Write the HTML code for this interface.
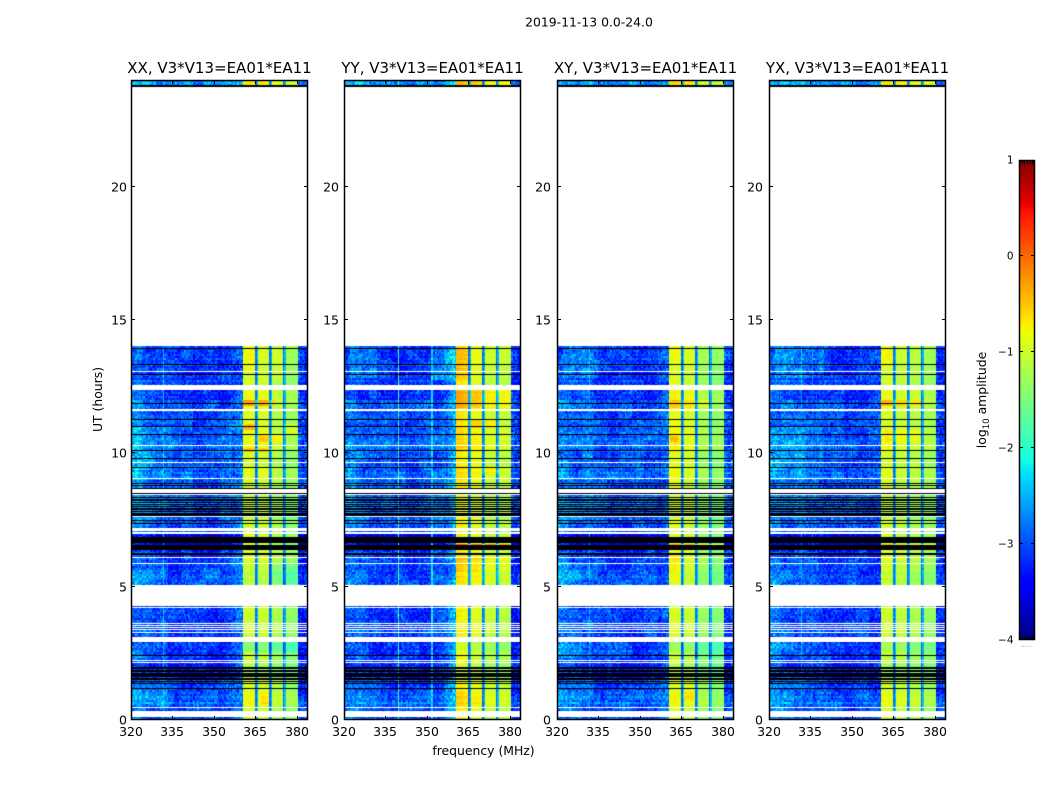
<!DOCTYPE html>
<html lang="en">
<head>
<meta charset="utf-8">
<title>2019-11-13 amplitude waterfall</title>
<style>
html,body{margin:0;padding:0;background:#fff;}
#chart{position:relative;width:1050px;height:800px;overflow:hidden;background:#fff;font-family:"DejaVu Sans","Liberation Sans",sans-serif;}
#chart canvas{position:absolute;display:block;}
#chart svg{position:absolute;left:0;top:0;}
text{font-family:"DejaVu Sans","Liberation Sans",sans-serif;fill:#000;}
</style>
</head>
<body>
<div id="chart">
<svg id="overlay" width="1050" height="800">
<text x="589" y="26.5" text-anchor="middle" font-size="12.4">2019-11-13 0.0-24.0</text>
<text x="483.5" y="755" text-anchor="middle" font-size="12.4">frequency (MHz)</text>
<text transform="translate(102,399.5) rotate(-90)" text-anchor="middle" font-size="12.4">UT (hours)</text>
<text transform="translate(986,400) rotate(-90)" text-anchor="middle" font-size="12.4">log<tspan font-size="8.6" dy="3">10</tspan><tspan dy="-3"> amplitude</tspan></text>
</svg>
</div>
<script>
// ---- chart data (log10 amplitude) ----
const panelTitles = ["XX, V3*V13=EA01*EA11","YY, V3*V13=EA01*EA11","XY, V3*V13=EA01*EA11","YX, V3*V13=EA01*EA11"];
const xTicks = [320,335,350,365,380];
const yTicks = [0,5,10,15,20];
const colorbarTicks = [1,0,-1,-2,-3,-4];

// level per 1 MHz channel, 320..384
const spectrumXX = [-2.75,-2.72,-2.7,-2.7,-2.75,-2.8,-2.85,-2.88,-2.9,-2.95,-2.95,-2.95,-2.9,-2.95,-3,-3,-3,-3.05,-3,-2.95,-2.9,-2.9,-3,-3.05,-3.05,-3.05,-3.05,-3,-3,-3,-3.05,-3.05,-3.05,-3,-3,-2.95,-2.9,-2.85,-2.8,-2.75,-2.7,-1.02,-0.96,-0.96,-1,-1,-1.05,-1,-1,-1.05,-1.1,-1.2,-1.2,-1.2,-1.25,-1.3,-1.42,-1.36,-1.36,-1.4,-1.42,-3.05,-3.1,-3.1,-3.1];
const spectrumYY = [-2.85,-2.8,-2.75,-2.75,-2.75,-2.8,-2.85,-2.9,-2.9,-2.95,-2.95,-2.95,-3,-3,-3,-2.95,-2.95,-3,-3,-3,-3,-2.95,-3,-3,-3.05,-3.05,-3,-3,-3,-3,-3,-3,-2.95,-2.95,-2.95,-2.9,-2.85,-2.75,-2.65,-2.55,-2.4,-0.72,-0.72,-0.76,-0.82,-0.85,-0.9,-0.88,-0.88,-0.92,-1,-1.05,-1.05,-1.08,-1.1,-1.12,-1.15,-1.12,-1.12,-1.15,-1.18,-3.05,-3.1,-3.1,-3.1];
const spectrumXY = [-2.7,-2.68,-2.7,-2.72,-2.75,-2.78,-2.85,-2.88,-2.85,-2.85,-2.85,-2.85,-2.85,-2.9,-2.95,-2.95,-3,-3,-2.95,-2.95,-3,-3,-3,-3,-3,-3,-3,-3,-3,-2.95,-3,-3,-3,-3,-2.95,-2.95,-2.95,-2.95,-2.9,-2.85,-2.8,-0.94,-0.9,-0.9,-0.95,-1,-1.02,-1,-1,-1,-1.1,-1.35,-1.35,-1.32,-1.32,-1.35,-1.5,-1.48,-1.45,-1.42,-1.45,-2.95,-3,-3,-3];
const spectrumYX = [-2.72,-2.7,-2.72,-2.72,-2.75,-2.8,-2.82,-2.85,-2.85,-2.85,-2.85,-2.85,-2.85,-2.9,-2.9,-2.95,-2.95,-2.9,-2.9,-2.9,-2.95,-2.95,-3,-3,-3,-3,-3,-3.05,-3.05,-3,-3,-3,-3,-3,-3,-3,-3,-3,-3,-3,-2.95,-1.02,-0.98,-0.98,-1.02,-1.05,-1.12,-1.12,-1.08,-1.1,-1.15,-1.2,-1.2,-1.2,-1.22,-1.25,-1.3,-1.3,-1.32,-1.35,-1.35,-3,-3.05,-3.05,-3.05];

// narrow dips and lines: [MHz, level]
const notches = [[365,-2.8],[365.5,-2.45],[370,-2.8],[370.5,-2.45],[375,-2.9],[375.5,-2.5]];
const linesXX = [[331.5,-2.5]];
const linesYY = [[339.5,-1.8],[351.5,-2.3]];
const linesXY = [[331.5,-2.6]];
const linesYX = [[331.5,-2.6],[335.5,-2.8]];

// half-hour offsets from 0h to 24h
const offgridGain = [-0.05,0.05,-0.1,-0.35,-0.2,-0.15,-0.15,-0.15,-0.15,-0.15,-0.03,-0.15,-0.15,-0.65,-0.05,0.05,0.1,0.05,0.05,-0.03,0.07,0.01,-0.05,-0.03,-0.2,-0.15,-0.13,-0.15,-0.15,-0.15,-0.15,-0.15,-0.15,-0.15,-0.15,-0.15,-0.15,-0.15,-0.15,-0.15,-0.15,-0.15,-0.15,-0.15,-0.15,-0.15,-0.15,0.25];
const bandGain = [0,0.15,0,-0.25,-0.1,-0.2,0,0,0,0,-0.08,0,0.1,0,0,-0.1,-0.05,0.05,0.1,0,0.15,0.12,0.05,0.12,0.15,0,0.05,0.08,0,0,0,0,0,0,0,0,0,0,0,0,0,0,0,0,0,0,0,0.3];

// level patches: [hour from, hour to, MHz from, MHz to, added level]
const patchesXX = [[11.72,11.95,360.5,372,0.5],[10.85,11.05,360.5,365,0.45],[10.4,10.72,365.5,375,0.35],[10,10.15,361,371,0.35],[10.7,11.05,375.5,380,0.3],[0.6,1.2,367,370,0.2],[12.7,13.9,371,375,0.15],[2.5,3,361,380,-0.25],[4.4,5.9,361,380,-0.05],[5.1,5.85,370,380,-0.2],[0.5,1.2,320,335,0.2],[9,11,320,335,0.2],[5.1,5.7,320,332,0.15],[5.1,5.7,345,352,0.15],[13,13.95,360.5,365,0.1]];
const patchesYY = [[5.1,6.05,360.5,380,0.2],[6.5,6.57,360.5,380,0.95],[11.7,12.3,360.5,380,0.22],[10.9,11.2,365,375,0.3],[9.2,9.5,370,376,0.25],[12.7,13.95,360.5,365,0.2],[12.8,13.9,322,332,0.25],[12.7,13.9,352,360,0.25]];
const patchesXY = [[5.15,6.2,360.5,365,0.15],[6.5,6.57,360.5,380,0.75],[0.7,1.1,365.5,370,0.2],[2.3,2.9,361,380,-0.15],[11.7,12,361,375,0.22],[10.4,10.6,361,364,0.3],[5.2,5.9,320,335,0.25],[2.4,2.9,320,345,0.2],[12.8,13.9,322,335,0.2]];
const patchesYX = [[11.72,11.95,360.5,375,0.4],[10.4,10.8,362,375,0.2],[9.4,9.7,370,374,0.15],[6.5,6.57,361,380,0.6],[13.2,13.95,360.5,365,0.15],[12.8,13.9,322,340,0.25],[2.4,2.9,320,335,0.2],[9,11,320,340,0.15]];

// rows without data, hour ranges
const whiteBands = [[23.74,14.03],[12.58,12.36],[8.68,8.5],[8.46,8.42],[7.19,7.1],[7.05,6.96],[5.06,4.29],[3.11,2.91],[0.35,0.1]];
const whiteLines = [23.83,13.08,11.68,11.61,10.31,9.66,9.07,7.64,6.1,5.88,4.23,3.64,3.56,3.49,3.4,3.31,2.25,2.19,0.48];
const blackBands = [[8.5,8.46],[6.87,6.62],[6.56,6.37]];
const blackLines = [23.8,23.76,13.95,13.35,12.98,11.9,11.29,11.03,10.71,10.11,9.81,9.47,8.9,8.82,8.71,8.38,8.3,8.24,8.17,8.11,8.04,7.95,7.9,7.84,7.78,7.72,7.68,7.5,7.39,6.28,6.22,2.44,1.98,1.94,1.88,1.82,1.76,1.73,1.7,1.65,1.58,1.52,1.46,1.4,1.2];

// hand-typed speckle amplitudes
const speckleA = [0.31,-0.22,0.08,-0.35,0.17,0.42,-0.11,-0.28,0.05,0.26,-0.4,0.13,-0.06,0.36,-0.19,0.21,-0.31,0.02,0.39,-0.25,0.11,-0.14,0.29,-0.37,0.07,0.18,-0.08,0.33,-0.29,-0.03,0.24,-0.17,0.4,-0.33,0.1,-0.21,0.15];
const speckleB = [-0.12,0.2,-0.3,0.06,0.28,-0.18,0.35,-0.04,-0.26,0.14,0.09,-0.36,0.23,-0.09,0.32,-0.2,0.01,0.27,-0.32,0.16,-0.07,0.38,-0.24,0.04,-0.15,0.3,-0.34,0.12,0.19,-0.27,0.25,-0.02,-0.38,0.34,-0.1,0.22,-0.23,0.03,0.37,-0.16,0.08];
const rowRipple = [0.06,-0.1,0.14,-0.04,-0.16,0.1,0.02,-0.08,0.18,-0.12,0.04,0.12,-0.14,-0.02,0.08,-0.18,0.16,0,-0.06,0.1,-0.1,0.14,-0.04];

// ---- layout ----
const panelLefts = [131,344,557,769];
const yLabelRights = [127,339,551,763];
const panelWidth = 177;
const plotTop = 80, plotBottom = 720;
const hourMax = 24, mhzMin = 320, mhzMax = 384, levelMin = -4, levelMax = 1;
const bandFrom = 360.5, bandTo = 380.5;
const spectra = [spectrumXX,spectrumYY,spectrumXY,spectrumYX];
const lineSets = [linesXX,linesYY,linesXY,linesYX];
const patchSets = [patchesXX,patchesYY,patchesXY,patchesYX];
const panelKeys = ["xx","yy","xy","yx"];
const channelStep = 0.5, rowStep = 0.075;

function xScale(p,m){return panelLefts[p]+(m-mhzMin)/(mhzMax-mhzMin)*panelWidth;}
function yScale(h){return plotBottom-h/hourMax*(plotBottom-plotTop);}
function ramp(t,pts){
  for(let i=1;i<pts.length;i++){
    if(t<=pts[i][0]){const a=pts[i-1],b=pts[i];return a[1]+(b[1]-a[1])*(t-a[0])/(b[0]-a[0]);}
  }
  return pts[pts.length-1][1];
}
function jet(level){
  const t=Math.max(0,Math.min(1,(level-levelMin)/(levelMax-levelMin)));
  const r=ramp(t,[[0,0],[0.35,0],[0.66,1],[0.89,1],[1,0.5]]);
  const g=ramp(t,[[0,0],[0.125,0],[0.375,1],[0.64,1],[0.91,0],[1,0]]);
  const b=ramp(t,[[0,0.5],[0.11,1],[0.34,1],[0.65,0],[1,0]]);
  return 'rgb('+Math.round(r*255)+','+Math.round(g*255)+','+Math.round(b*255)+')';
}
function cellLevel(p,mhz,hour,c,r){
  const inBand=mhz>=bandFrom&&mhz<bandTo;
  let v=spectra[p][Math.min(spectra[p].length-1,Math.ceil(mhz)-mhzMin)];
  const bin=Math.min(47,Math.floor(hour*2));
  v+=inBand?bandGain[bin]:offgridGain[bin];
  const a=speckleA[(c*5+r*11+(c*r)%13)%speckleA.length];
  const b=speckleB[(c*c+r*r*7+(c*r>>2))%speckleB.length];
  const blotch=speckleA[(Math.floor(c/9)*3+Math.floor(r/5)*7+p*5)%speckleA.length];
  const ripple=rowRipple[r%rowRipple.length];
  v+=inBand?(a+b)*0.1+ripple*0.4+blotch*0.08:(a+b)*0.6+ripple*0.6+blotch*0.4;
  if(inBand){
    for(const n of notches){if(n[0]===mhz)v=n[1]+(a+b)*0.2;}
  }else{
    for(const l of lineSets[p]){if(l[0]===mhz)v=Math.max(v,l[1]+a*0.6);}
  }
  for(const s of patchSets[p]){
    if(hour>=s[0]&&hour<s[1]&&mhz>=s[2]&&mhz<s[3])v+=s[4];
  }
  return v;
}
function fillHours(ctx,x,w,hTop,hBottom,color,minH){
  const y0=Math.round(yScale(hTop))-plotTop;
  const y1=Math.round(yScale(hBottom))-plotTop;
  ctx.fillStyle=color;
  ctx.fillRect(x,y0,w,Math.max(minH,y1-y0));
}
const svgNS='http://www.w3.org/2000/svg';
const overlay=document.getElementById('overlay');
function svgLine(x1,y1,x2,y2,parent){
  const l=document.createElementNS(svgNS,'line');
  l.setAttribute('x1',x1);l.setAttribute('y1',y1);l.setAttribute('x2',x2);l.setAttribute('y2',y2);
  l.setAttribute('stroke','#000');l.setAttribute('stroke-width','1');
  parent.appendChild(l);
  return l;
}
function svgText(str,x,y,anchor,size,parent){
  const t=document.createElementNS(svgNS,'text');
  t.setAttribute('x',x);t.setAttribute('y',y);t.setAttribute('text-anchor',anchor);t.setAttribute('font-size',size);
  t.textContent=str;
  parent.appendChild(t);
  return t;
}

// ---- panels ----
const chart=document.getElementById('chart');
panelTitles.forEach(function(title,p){
  const left=panelLefts[p];
  const cv=document.createElement('canvas');
  
  
  cv.width=panelWidth;cv.height=plotBottom-plotTop;
  cv.style.left=left+'px';cv.style.top=plotTop+'px';
  chart.insertBefore(cv,overlay);
  const ctx=cv.getContext('2d');
  const cols=Math.round((mhzMax-mhzMin)/channelStep);
  const rows=Math.round(hourMax/rowStep);
  for(let r=0;r<rows;r++){
    const hour=r*rowStep;
    const yA=Math.round(yScale(hour+rowStep))-plotTop;
    const yB=Math.round(yScale(hour))-plotTop;
    for(let c=0;c<cols;c++){
      const mhz=mhzMin+c*channelStep;
      const xA=Math.round(xScale(p,mhz))-left;
      const xB=Math.round(xScale(p,mhz+channelStep))-left;
      ctx.fillStyle=jet(cellLevel(p,mhz,hour,c,r));
      ctx.fillRect(xA,yA,xB-xA,yB-yA);
    }
  }
  whiteBands.forEach(function(b){fillHours(ctx,0,panelWidth,b[0],b[1],'#fff',0);});
  whiteLines.forEach(function(h){fillHours(ctx,0,panelWidth,h,h,'#fff',1);});
  blackBands.forEach(function(b){fillHours(ctx,0,panelWidth,b[0],b[1],'#000',1);});
  blackLines.forEach(function(h){fillHours(ctx,0,panelWidth,h,h,'#000',1);});

  const g=document.createElementNS(svgNS,'g');
  
  
  overlay.appendChild(g);
  const ttl=svgText(title,left+panelWidth/2,73,'middle',15,g);
  
  
  const frame=document.createElementNS(svgNS,'rect');
  frame.setAttribute('x',left+0.5);frame.setAttribute('y',plotTop+0.5);
  frame.setAttribute('width',panelWidth-1);frame.setAttribute('height',plotBottom-plotTop-1);
  frame.setAttribute('fill','none');frame.setAttribute('stroke','#000');frame.setAttribute('stroke-width','1.5');
  
  
  g.appendChild(frame);
  xTicks.forEach(function(m){
    const x=Math.round(xScale(p,m))+0.5;
    const lower=svgLine(x,plotBottom,x,plotBottom-4,g);
    
    
    const upper=svgLine(x,plotTop,x,plotTop+4,g);
    
    
    const t=svgText(String(m),x-0.5,736,'middle',12.5,g);
    
    
  });
  yTicks.forEach(function(h){
    const y=Math.round(yScale(h))-0.5;
    const lt=svgLine(left,y,left+4,y,g);
    
    
    const rt=svgLine(left+panelWidth,y,left+panelWidth-4,y,g);
    
    
    const t=svgText(String(h),yLabelRights[p],y+5,'end',12.5,g);
    
    
  });
});

// ---- colorbar ----
const cbLeft=1019,cbWidth=16,cbTop=160,cbBottom=640;
function cbScale(v){return cbBottom-(v-levelMin)/(levelMax-levelMin)*(cbBottom-cbTop);}
const cb=document.createElement('canvas');


cb.width=cbWidth;cb.height=cbBottom-cbTop;
cb.style.left=cbLeft+'px';cb.style.top=cbTop+'px';
chart.insertBefore(cb,overlay);
const cbCtx=cb.getContext('2d');
for(let y=0;y<cbBottom-cbTop;y++){
  cbCtx.fillStyle=jet(levelMax-(y+0.5)/(cbBottom-cbTop)*(levelMax-levelMin));
  cbCtx.fillRect(0,y,cbWidth,1);
}
const cbGroup=document.createElementNS(svgNS,'g');


overlay.appendChild(cbGroup);
const cbFrame=document.createElementNS(svgNS,'rect');
cbFrame.setAttribute('x',cbLeft+0.5);cbFrame.setAttribute('y',cbTop+0.5);
cbFrame.setAttribute('width',cbWidth-1);cbFrame.setAttribute('height',cbBottom-cbTop-1);
cbFrame.setAttribute('fill','none');cbFrame.setAttribute('stroke','#000');cbFrame.setAttribute('stroke-width','1.5');


cbGroup.appendChild(cbFrame);
for(let i=1;i<=5;i++){
  const mx=Math.round(cbLeft+i*cbWidth/6)+0.5;
  const up=svgLine(mx,cbTop,mx,cbTop+4,cbGroup);
  
  
  const dn=svgLine(mx,cbBottom,mx,cbBottom-4,cbGroup);
  
  
}
colorbarTicks.forEach(function(v){
  const y=Math.round(cbScale(v))+(v===levelMax?0.5:-0.5);
  const a=svgLine(cbLeft,y,cbLeft+4,y,cbGroup);
  
  
  const b=svgLine(cbLeft+cbWidth,y,cbLeft+cbWidth-4,y,cbGroup);
  
  
  const t=svgText(String(v).replace('-','\u2212'),1013.5,Math.round(cbScale(v))+3.5,'end',10.5,cbGroup);
  
  
});
const dots=svgText('......',1026.5,646.5,'middle',6,cbGroup);
dots.setAttribute('style','fill:#777');


</script>
</body>
</html>
